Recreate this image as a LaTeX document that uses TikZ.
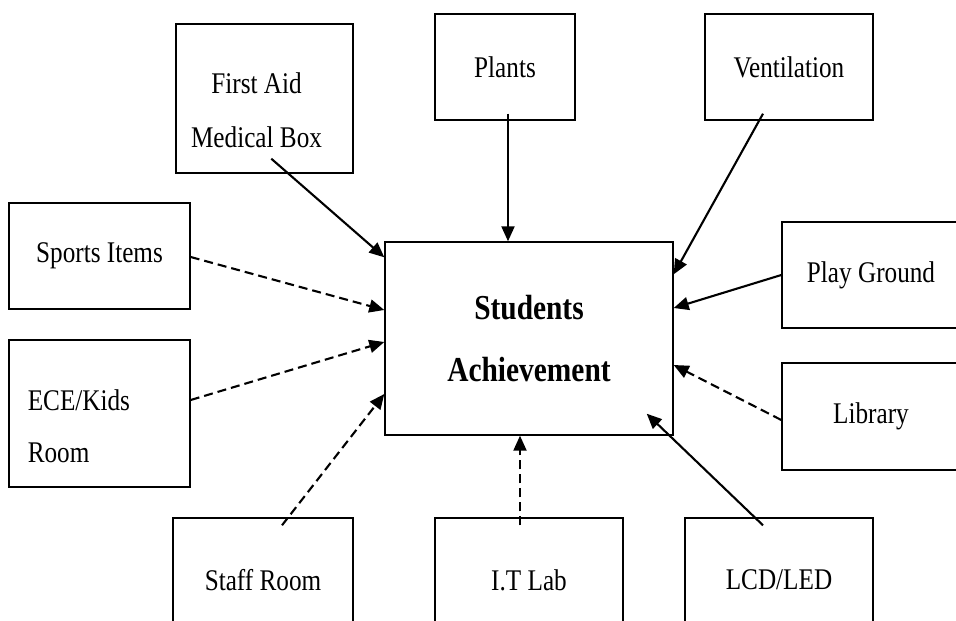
\documentclass[tikz,border=0pt]{standalone}
\usepackage{fontspec}
\setmainfont{Liberation Serif}[FakeStretch=0.84]
\usetikzlibrary{arrows.meta}

\begin{document}
\begin{tikzpicture}[x=1pt,y=-1pt,
	box/.style={draw,line width=1.4pt,rectangle,inner sep=0pt,align=center,
		font=\fontsize{30}{54}\selectfont},
	arr/.style={line width=2.1pt,-{Triangle[length=15pt,width=13pt]}},
	darr/.style={arr,dash pattern=on 9pt off 5pt}]
	\useasboundingbox (0,0) rectangle (956,621);
	\node [box,minimum width=288pt,minimum height=193pt,
		font=\bfseries\fontsize{35}{62}\selectfont] (cen) at (529,338.5) {Students\\Achievement};
	\node [box,minimum width=177pt,minimum height=149pt,
		label={[align=center,font=\fontsize{30}{54}\selectfont,xshift=-8pt,yshift=-12pt]center:{First Aid\\Medical Box}}]
		(aid) at (264.5,98.5) {};
	\node [box,minimum width=140pt,minimum height=106pt] (plants) at (505,67) {Plants};
	\node [box,minimum width=168pt,minimum height=106pt] (vent) at (789,67) {Ventilation};
	\node [box,minimum width=181pt,minimum height=106pt] (sports) at (99.5,256) {Sports Items};
	\node [box,minimum width=181pt,minimum height=147pt,
		label={[align=left,font=\fontsize{30}{52}\selectfont,anchor=west,xshift=16pt,yshift=-13pt]west:{ECE/Kids\\Room}}]
		(ece) at (99.5,413.5) {};
	\node [box,minimum width=178pt,minimum height=106pt] (play) at (871,275) {Play Ground};
	\node [box,minimum width=178pt,minimum height=107pt] (lib) at (871,416.5) {Library};
	\node [box,minimum width=180pt,minimum height=124pt] (staff) at (263,580) {Staff Room};
	\node [box,minimum width=188pt,minimum height=124pt] (itlab) at (529,580) {I.T Lab};
	\node [box,minimum width=188pt,minimum height=124pt] (lcd) at (779,580) {LCD/LED};
	\draw [arr] ([xshift=96pt,yshift=15pt]aid.south west) -- ([yshift=-16pt]cen.north west);
	\draw [arr] ([xshift=3pt,yshift=7pt]plants.south) -- ([xshift=-21pt]cen.north);
	\draw [arr] ([xshift=-26pt,yshift=7pt]vent.south) -- ([yshift=-33pt]cen.north east);
	\draw [darr] ([yshift=-1pt]sports.east) -- ([yshift=28.5pt]cen.west);
	\draw [darr] ([yshift=13.5pt]ece.east) -- ([yshift=-3.5pt]cen.west);
	\draw [darr] ([xshift=19pt,yshift=-8pt]staff.north) -- ([yshift=-55.5pt]cen.west);
	\draw [darr] ([xshift=-9pt,yshift=-8pt]itlab.north) -- ([xshift=-9pt]cen.south);
	\draw [arr] ([xshift=-16pt,yshift=-8pt]lcd.north) -- ([xshift=-27pt,yshift=22pt]cen.south east);
	\draw [arr] (play.west) -- ([yshift=30.5pt]cen.east);
	\draw [darr] ([yshift=-3.5pt]lib.west) -- ([yshift=-26.5pt]cen.east);
\end{tikzpicture}
\end{document}
